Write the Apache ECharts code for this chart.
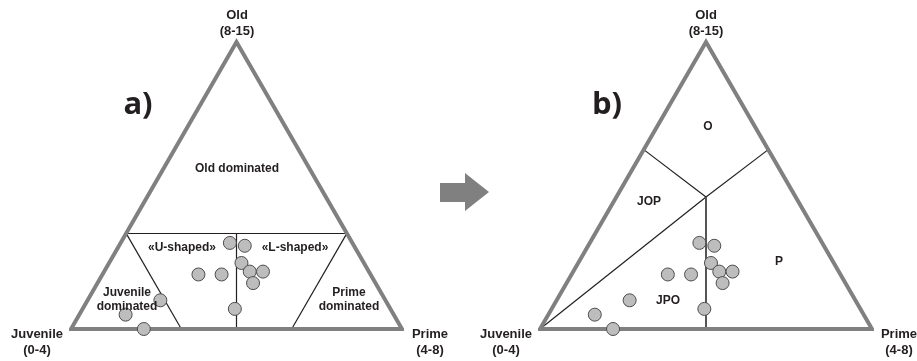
<!DOCTYPE html>
<html>
<head>
<meta charset="utf-8">
<script src="https://cdn.jsdelivr.net/npm/echarts@6/dist/echarts.min.js"></script>
<style>
  html, body { margin: 0; padding: 0; background: #fff; }
  #chart { width: 917px; height: 361px; }
</style>
</head>
<body>
<div id="chart"></div>
<script>
// sample composition (%), same 12 assemblages in both panels
var juvenile = [37, 33, 37, 52, 45, 36, 32, 37, 47, 68, 81, 78];
var prime    = [33, 38, 40, 29, 36, 44, 48, 47, 46, 22, 14, 22];
var old      = [30, 29, 23, 19, 19, 20, 20, 16,  7, 10,  5,  0];

// corner labels
var cornerNames = ['Juvenile', 'Prime', 'Old'];
var cornerRanges = ['(0-4)', '(4-8)', '(8-15)'];

// field boundaries, as [juvenile, prime, old] end points
var boundsA = [
  [[200/3, 0, 100/3], [0, 200/3, 100/3]],
  [[100/3, 100/3, 100/3], [50, 50, 0]],
  [[200/3, 0, 100/3], [200/3, 100/3, 0]],
  [[0, 200/3, 100/3], [100/3, 200/3, 0]]
];
var boundsB = [
  [[37.5, 0, 62.5], [27, 27, 46]],
  [[0, 37.5, 62.5], [27, 27, 46]],
  [[100, 0, 0], [27, 27, 46]]
];
var boundB_mid = [[27, 27, 46], [50, 50, 0]];

// field names
var fieldsA = ['Old dominated', '«U-shaped»', '«L-shaped»', 'Juvenile\ndominated', 'Prime\ndominated'];
var fieldsB = ['O', 'JOP', 'P', 'JPO'];

var H = Math.sqrt(3) / 2;
function toXY(t) {
  var s = t[0] + t[1] + t[2];
  var p = t[1] / s, o = t[2] / s;
  return [p + o / 2, o * H];
}

var chart = echarts.init(document.getElementById('chart'));

var font = 'bold 13px "Liberation Sans", Arial, sans-serif';
var fieldFont = 'bold 12px "Liberation Sans", Arial, sans-serif';
var bigFont = 'bold 31px "Open Sans", "Liberation Sans", sans-serif';
var textColor = '#231f20';

function outline(idx) {
  var pts = [[100, 0, 0], [0, 100, 0], [0, 0, 100], [100, 0, 0], [0, 100, 0]].map(toXY);
  return {
    type: 'line', xAxisIndex: idx, yAxisIndex: idx, data: pts, symbol: 'none',
    clip: false, silent: true, z: 3,
    lineStyle: { color: '#808080', width: 4, join: 'miter', miterLimit: 20 }
  };
}

function boundLines(idx, list, color, width) {
  return {
    type: 'lines', coordinateSystem: 'cartesian2d', xAxisIndex: idx, yAxisIndex: idx,
    silent: true, z: 2,
    lineStyle: { color: color, width: width, opacity: 1, curveness: 0 },
    data: list.map(function(seg) { return { coords: seg.map(toXY) }; })
  };
}

function samples(idx) {
  var data = [];
  for (var i = 0; i < juvenile.length; i++) {
    data.push(toXY([juvenile[i], prime[i], old[i]]));
  }
  return {
    type: 'scatter', xAxisIndex: idx, yAxisIndex: idx, data: data, clip: false,
    symbolSize: 13, z: 5,
    itemStyle: { color: '#bdbdbd', borderColor: '#4d4d4d', borderWidth: 1, opacity: 1 }
  };
}

function txt(x, y, s, f) {
  return {
    type: 'text', x: x, y: y, silent: true, z: 10,
    style: { text: s, font: f || font, fill: textColor, align: 'center', verticalAlign: 'middle', lineHeight: 14 }
  };
}

// one set of corner labels per panel
function cornerLabels(jx, px, ox) {
  return [
    txt(jx, 334, cornerNames[0]), txt(jx, 350, cornerRanges[0]),
    txt(px, 334, cornerNames[1]), txt(px, 350, cornerRanges[1]),
    txt(ox, 15, cornerNames[2]), txt(ox, 31, cornerRanges[2])
  ];
}

var graphics = []
  .concat(cornerLabels(37, 430, 237))
  .concat(cornerLabels(506, 899, 706))
  .concat([
    txt(138, 105, 'a)', bigFont),
    txt(607, 105, 'b)', bigFont),
    txt(237, 169, fieldsA[0], fieldFont),
    txt(182, 248, fieldsA[1], fieldFont),
    txt(295, 248, fieldsA[2], fieldFont),
    txt(127, 300, fieldsA[3], fieldFont),
    txt(349, 300, fieldsA[4], fieldFont),
    txt(708, 127, fieldsB[0], fieldFont),
    txt(649, 202, fieldsB[1], fieldFont),
    txt(779, 262, fieldsB[2], fieldFont),
    txt(668, 301, fieldsB[3], fieldFont),
    {
      type: 'polygon', silent: true,
      shape: { points: [[440, 183], [465, 183], [465, 173], [489, 192], [465, 211], [465, 202], [440, 202]] },
      style: { fill: '#808080' }
    }
  ]);

chart.setOption({
  animation: false,
  backgroundColor: '#fff',
  grid: [
    { left: 71, top: 42, width: 331, height: 287 },
    { left: 540, top: 42, width: 332, height: 287 }
  ],
  xAxis: [
    { type: 'value', gridIndex: 0, min: 0, max: 1, show: false },
    { type: 'value', gridIndex: 1, min: 0, max: 1, show: false }
  ],
  yAxis: [
    { type: 'value', gridIndex: 0, min: 0, max: H, show: false },
    { type: 'value', gridIndex: 1, min: 0, max: H, show: false }
  ],
  series: [
    outline(0),
    boundLines(0, boundsA, '#231f20', 1.2),
    samples(0),
    outline(1),
    boundLines(1, boundsB, '#231f20', 1.2),
    boundLines(1, [boundB_mid], '#555555', 2),
    samples(1)
  ],
  graphic: graphics
});
</script>
</body>
</html>
